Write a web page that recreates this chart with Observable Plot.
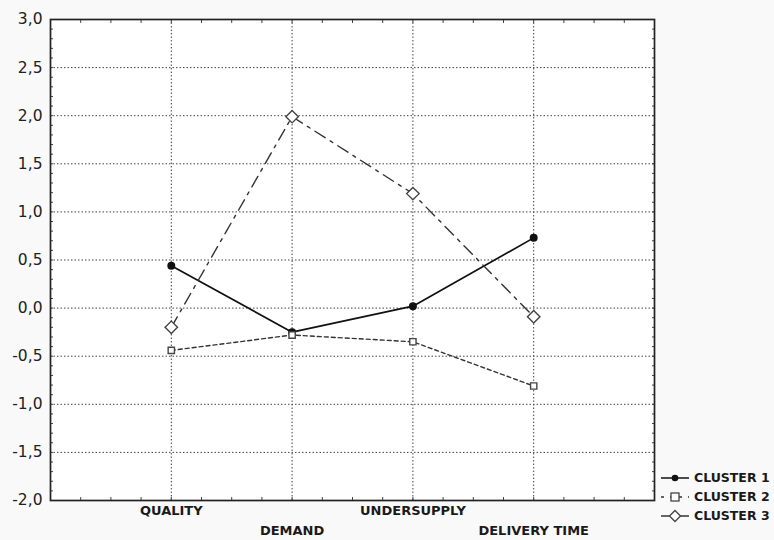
<!DOCTYPE html>
<html><head><meta charset="utf-8">
<script src="https://cdn.jsdelivr.net/npm/d3@7"></script>
<script src="https://cdn.jsdelivr.net/npm/@observablehq/plot@0.6"></script>
<style>
body{margin:0;background:#f9f9f9;}
#wrap{position:relative;width:774px;height:540px;}
#legend{position:absolute;left:661px;top:468px;font:bold 12.5px "DejaVu Sans",sans-serif;color:#1a1a1a;}
.row{display:flex;align-items:center;height:19px;white-space:nowrap;}
.row svg{margin-right:5px;overflow:visible}
</style></head><body><div id="wrap"><div id="legend"></div></div>
<script>
const categories = ["QUALITY", "DEMAND", "UNDERSUPPLY", "DELIVERY TIME"];
const cluster1 = [0.44, -0.25, 0.02, 0.73];
const cluster2 = [-0.44, -0.28, -0.35, -0.81];
const cluster3 = [-0.20, 1.99, 1.19, -0.09];
const seriesNames = ["CLUSTER 1", "CLUSTER 2", "CLUSTER 3"];
const yTicks = [-2, -1.5, -1, -0.5, 0, 0.5, 1, 1.5, 2, 2.5, 3];
const yGrid = [-1.5, -1, -0.5, 0, 0.5, 1, 1.5, 2, 2.5];

const seriesValues = [cluster1, cluster2, cluster3];
const rows = [];
seriesValues.forEach((vals, s) => vals.forEach((v, i) => rows.push({cluster: seriesNames[s], cat: categories[i], pos: i + 1, value: v})));
const xPos = categories.map((c, i) => i + 1);
const xMinor = d3.range(0, 21).map(k => k / 4);
const yMinor = d3.range(-20, 31).map(k => k / 10);
const fmt = d => d.toFixed(1).replace(".", ",");
const dashes = ["none", "4,3", "12,6,3,6"];
const symbols = ["circle", "square2", "diamond2"];
const sizes = [3.3, 4, 5.6];
const fills = ["#111", "white", "white"];

const marks = [
  Plot.frame({fill: "white"}),
  Plot.gridY(yGrid, {stroke: "#444", strokeOpacity: 1, strokeDasharray: "1.5,2"}),
  Plot.gridX(xPos, {stroke: "#444", strokeOpacity: 1, strokeDasharray: "1.5,2"}),
  Plot.axisY(yMinor, {anchor: "left", tickSize: -3, tickFormat: () => "", label: null, stroke: "#444"}),
  Plot.axisY(yMinor, {anchor: "right", tickSize: -3, tickFormat: () => "", label: null, stroke: "#444"}),
  Plot.axisX(xMinor, {anchor: "bottom", tickSize: -3, tickFormat: () => "", label: null, stroke: "#444"}),
  Plot.axisX(xMinor, {anchor: "top", tickSize: -3, tickFormat: () => "", label: null, stroke: "#444"}),
  Plot.axisY(yTicks, {anchor: "left", tickSize: 0, tickPadding: 8, tickFormat: fmt, fontSize: 15.5, fill: "#222", label: null}),
  Plot.text(categories, {x: (d, i) => i + 1, filter: (d, i) => i % 2 === 0, frameAnchor: "bottom", dy: 14, fontWeight: "bold", fontSize: 13, fill: "#1a1a1a"}),
  Plot.text(categories, {x: (d, i) => i + 1, filter: (d, i) => i % 2 === 1, frameAnchor: "bottom", dy: 34, fontWeight: "bold", fontSize: 13, fill: "#1a1a1a"})
];
seriesNames.forEach((name, s) => {
  marks.push(Plot.line(rows.filter(r => r.cluster === name), {x: "pos", y: "value", stroke: s === 0 ? "#111" : "#333", strokeWidth: s === 0 ? 1.7 : 1.4, strokeDasharray: dashes[s]}));
});
seriesNames.forEach((name, s) => {
  marks.push(Plot.dot(rows.filter(r => r.cluster === name), {x: "pos", y: "value", symbol: () => symbols[s], r: sizes[s], fill: fills[s], stroke: s === 0 ? "#111" : "#444", strokeWidth: 1.4}));
});
marks.push(Plot.frame({stroke: "#222", strokeWidth: 1.7}));

const plot = Plot.plot({
  width: 774, height: 540,
  marginLeft: 50, marginRight: 120, marginTop: 19, marginBottom: 40,
  style: {background: "transparent", fontFamily: "DejaVu Sans, sans-serif", fontSize: "15.5px", overflow: "visible"},
  x: {type: "linear", domain: [0, 5]},
  y: {type: "linear", domain: [-2, 3]},
  symbol: {type: "identity"},
  marks
});
document.getElementById("wrap").prepend(plot);

const legend = document.getElementById("legend");
const legendSym = [
  '<circle cx="14" cy="7" r="3.3" fill="#111"/>',
  '<rect x="10" y="3" width="8" height="8" fill="white" stroke="#444" stroke-width="1.3"/>',
  '<path d="M14,1.5L19.5,7L14,12.5L8.5,7Z" fill="white" stroke="#444" stroke-width="1.3"/>'
];
const legendDash = ["none", "3,6", "none"];
seriesNames.forEach((name, s) => {
  const row = document.createElement("div");
  row.className = "row";
  row.innerHTML = `<svg width="28" height="14"><line x1="0" x2="28" y1="7" y2="7" stroke="${s === 0 ? '#111' : '#333'}" stroke-width="1.5" stroke-dasharray="${legendDash[s]}"/>${legendSym[s]}</svg><span>${name}</span>`;
  legend.appendChild(row);
});
</script></body></html>
